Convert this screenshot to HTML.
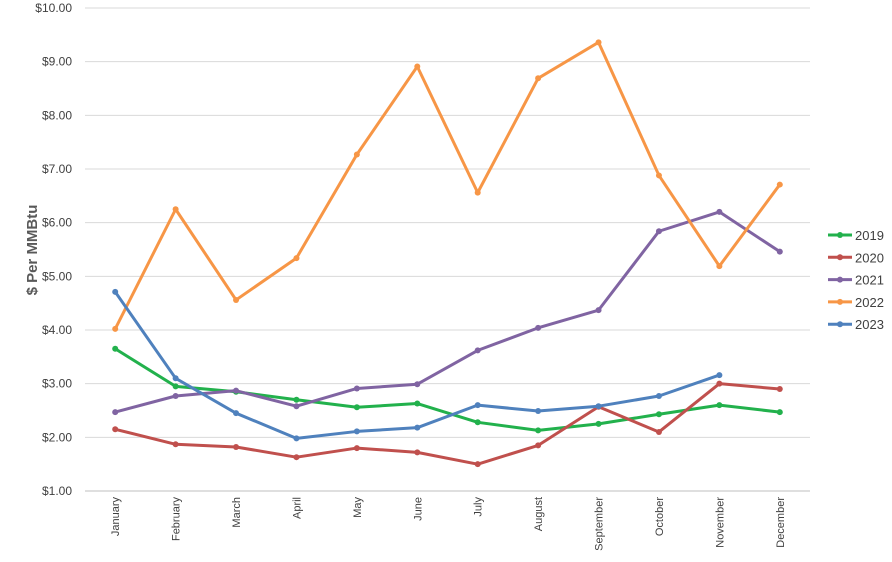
<!DOCTYPE html>
<html><head><meta charset="utf-8"><style>
body{margin:0;background:#fff;font-family:"Liberation Sans",Arial,sans-serif}
svg text{font-family:"Liberation Sans",Arial,sans-serif}
</style></head><body>
<svg id="chart" width="892" height="557"></svg>
<script>
const categories=["January","February","March","April","May","June","July","August","September","October","November","December"];
const seriesNames=["2019","2020","2021","2022","2023"];
const s2019=[3.65,2.95,2.85,2.70,2.56,2.63,2.28,2.13,2.25,2.43,2.60,2.47];
const s2020=[2.15,1.87,1.82,1.63,1.80,1.72,1.50,1.85,2.57,2.10,3.00,2.90];
const s2021=[2.47,2.77,2.87,2.58,2.91,2.99,3.62,4.04,4.37,5.84,6.20,5.46];
const s2022=[4.02,6.25,4.56,5.34,7.27,8.91,6.56,8.69,9.36,6.88,5.19,6.71];
const s2023=[4.71,3.10,2.45,1.98,2.11,2.18,2.60,2.49,2.58,2.77,3.16];
const yTicks=[1,2,3,4,5,6,7,8,9,10];
const colors=["#22b14c","#c0504d","#8064a2","#f79646","#4f81bd"];
const allSeries=[s2019,s2020,s2021,s2022,s2023];

const NS="http://www.w3.org/2000/svg";
const svg=document.getElementById('chart');
const L=85,R=810,T=8,B=491,yMin=1,yMax=10;
const band=(R-L)/categories.length;
const x=i=>L+band*(i+0.5);
const y=v=>B-(v-yMin)/(yMax-yMin)*(B-T);
function mk(t,a){const e=document.createElementNS(NS,t);for(const k in a)e.setAttribute(k,a[k]);svg.appendChild(e);return e;}

yTicks.forEach(v=>{
  const g=mk('line',{x1:L,x2:R,y1:y(v),y2:y(v),stroke:'#d9d9d9','stroke-width':1});
  
  
  const t=mk('text',{x:72,y:y(v)+4,'text-anchor':'end','font-size':12,fill:'#404040'});
  t.textContent='$'+v.toFixed(2);
  
  
});
const ax=mk('line',{x1:L,x2:R,y1:B,y2:B,stroke:'#bfbfbf','stroke-width':1});


categories.forEach((c,i)=>{
  const t=mk('text',{transform:`translate(${x(i)+4},497) rotate(-90)`,'text-anchor':'end','font-size':11,fill:'#404040'});
  t.textContent=c;
  
  
});
const yt=mk('text',{transform:'translate(37,250) rotate(-90)','text-anchor':'middle','font-size':15,'font-weight':'bold',fill:'#595959'});
yt.textContent='$ Per MMBtu';



allSeries.forEach((s,k)=>{
  const p=mk('polyline',{points:s.map((v,i)=>x(i)+','+y(v)).join(' '),fill:'none',stroke:colors[k],'stroke-width':3,'stroke-linejoin':'round'});
  
  
  s.forEach((v,i)=>{
    const c=mk('circle',{cx:x(i),cy:y(v),r:3,fill:colors[k]});
    
    
  });
  const ly=235+k*22.3;
  const ll=mk('line',{x1:828,x2:852,y1:ly,y2:ly,stroke:colors[k],'stroke-width':3});
  
  
  const lc=mk('circle',{cx:840,cy:ly,r:3,fill:colors[k]});
  
  
  const lt=mk('text',{x:855,y:ly+5,'font-size':13,fill:'#404040'});
  lt.textContent=seriesNames[k];
  
  
});
</script>
</body></html>
